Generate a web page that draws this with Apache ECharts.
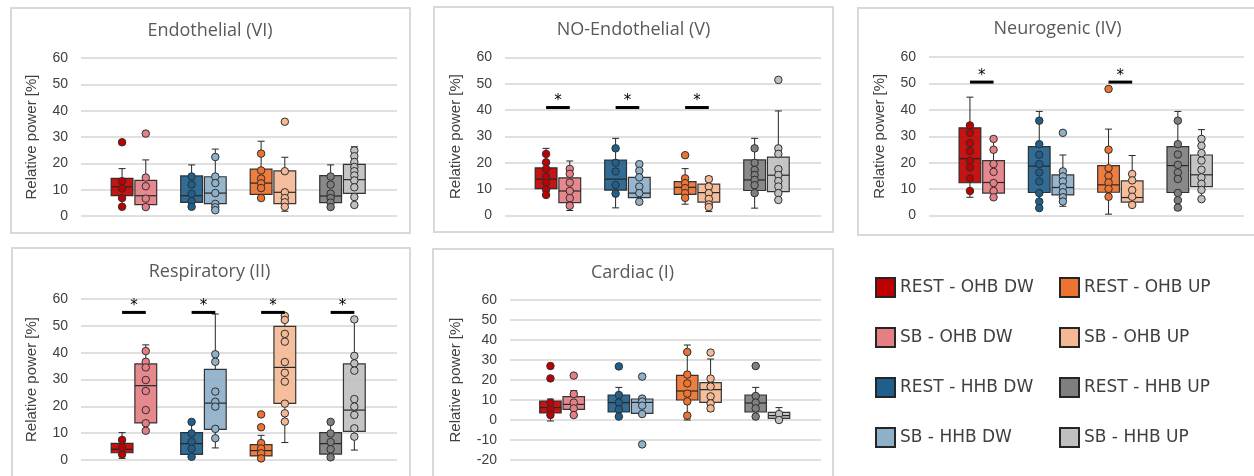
<!DOCTYPE html>
<html>
<head>
<meta charset="utf-8">
<title>Relative power</title>
<script src="https://cdn.jsdelivr.net/npm/echarts@6/dist/echarts.min.js"></script>
<style>
  html, body { margin: 0; padding: 0; background: #fff; }
  #myChart { width: 1254px; height: 476px; }
</style>
</head>
<body>
<div id="myChart"></div>
<script>
var groups = ['REST - OHB DW', 'SB - OHB DW', 'REST - HHB DW', 'SB - HHB DW',
              'REST - OHB UP', 'SB - OHB UP', 'REST - HHB UP', 'SB - HHB UP'];
var groupColors = ['#c00000', '#e47f85', '#1f5f8c', '#8eb0c9', '#ed7330', '#f4b895', '#7f7f7f', '#c0c0c0'];

var panelTitles = ['Endothelial (VI)', 'NO-Endothelial (V)', 'Neurogenic (IV)', 'Respiratory (II)', 'Cardiac (I)'];
var yMins = [0, 0, 0, 0, -20];
var yMax = 60;

// box values: [min, Q1, median, Q3, max] per group
var endoBoxes = [[3.5, 7.7, 11.1, 14.3, 18], [3, 4.3, 7.7, 13.5, 21.3], [3.3, 5.2, 7.7, 15.2, 19.4], [1.9, 4.7, 8.7, 14.9, 25.4],
                 [6.8, 8.2, 12.5, 17.8, 28.4], [1.8, 4.7, 9, 17.1, 22.3], [3, 5.1, 7.6, 15.3, 19.4], [3.7, 8.6, 13.8, 19.6, 26.3]];
var endoPoints = [[28, 13.2, 10.4, 6.8, 3.5], [31.3, 14.6, 11.3, 6.6, 3.4], [15, 11.9, 8.4, 5.6, 3.5], [22.4, 15, 12.5, 8.7, 4.6, 3.3, 2.2],
                  [23.7, 17.3, 14.2, 12.4, 10.6, 6.8], [35.8, 17, 9, 6.8, 5.2, 3.5], [15, 11.9, 8.5, 6.8, 5.1, 3.4],
                  [24.9, 22.7, 20.5, 18.6, 17, 15.4, 13.5, 10.9, 7.2, 4.2]];
var endoSig = [];

var noBoxes = [[7.8, 10.2, 13.8, 18.1, 25.5], [1.9, 4.9, 9.3, 14.3, 20.7], [2.9, 9.6, 13.8, 21, 29.3], [4.4, 6.8, 8.5, 14.5, 19.8],
               [4.3, 8, 10.7, 12.9, 17.8], [1.5, 5.1, 8.7, 11.9, 14.8], [2.8, 9.5, 13.5, 21.1, 29.3], [5.9, 9.1, 15.3, 22.2, 39.7]];
var noPoints = [[23.4, 20.2, 17.7, 14.8, 12.5, 9.9, 7.8], [17.7, 15.8, 12.5, 9.3, 6.6, 3.7], [25.5, 20, 16.7, 11.6, 8.3],
                [19.5, 17, 14.5, 11, 8.5, 5.2], [22.9, 14.1, 12.3, 10.4, 8.5, 6.7], [13.8, 11, 8.5, 6.3, 4.2, 3.2],
                [25.5, 20, 17.3, 15.4, 13.5, 11.5, 8.5], [51.5, 25.5, 23.4, 17.6, 15.4, 13.1, 11, 8.5, 5.9]];
var noSig = [[0, 41], [1, 41], [2, 41]];

var neuroBoxes = [[6.9, 12.4, 21.5, 33.2, 44.8], [6.8, 8.5, 12.5, 20.8, 29.2], [2.8, 8.7, 18.7, 26.1, 39.4], [3.5, 7.8, 10.6, 15.4, 22.9],
                  [0.5, 8.8, 11.6, 18.9, 32.7], [4, 5.1, 6.8, 13.1, 22.7], [2.1, 8.7, 18.9, 26.1, 39.4], [6.2, 10.9, 15.4, 22.9, 32.5]];
var neuroPoints = [[34.1, 31.3, 27.4, 24.4, 20.8, 18.2, 14.1, 9.3], [29, 24.9, 19.5, 16.5, 12.3, 9.3, 6.9],
                   [35.9, 27, 23, 19.5, 16.3, 12.9, 8.5, 5.3, 2.8], [31.3, 16.7, 14.8, 12.9, 10.7, 8.8, 6.9, 5.3],
                   [47.9, 24.9, 17.9, 15, 12.5, 10.1, 7.1], [15.7, 13.3, 9.6, 7.1, 4],
                   [35.9, 27, 23.1, 19.2, 16.3, 13.8, 8.5, 5.8, 3], [29, 26.4, 23.6, 20.8, 17.3, 14.4, 12, 9.7, 6.2]];
var neuroSig = [[0, 50.5], [2, 50.5]];

var respBoxes = [[0.6, 2.7, 4, 6.2, 10.2], [10.7, 13.8, 27.7, 35.8, 42.9], [0.6, 2.1, 6.1, 10.2, 14.3], [4.5, 11.4, 21.2, 33.8, 54.4],
                 [0.6, 1.5, 3.5, 5.7, 9.2], [6.5, 21.1, 34.5, 49.8, 53.7], [0.2, 2.2, 6.1, 10.2, 14.2], [3.7, 10.7, 18.6, 35.8, 52.4]];
var respPoints = [[7.5, 4.7, 2.1], [40.6, 36.6, 34.5, 29.8, 25.7, 18.6, 13.7, 10.9], [14.2, 9.9, 6.8, 4.2, 1.2],
                  [39.4, 36.6, 25.5, 21.7, 19.9, 11.6, 8.1], [17, 12.2, 6.3, 4.3, 2.5, 0.6],
                  [53.7, 52.2, 47, 44.1, 36.5, 32.5, 29.2, 21, 17.4, 14.3], [14.2, 9.9, 6.7, 4, 1],
                  [52.4, 38.8, 36, 33.3, 22.7, 19.9, 16.8, 11.8, 8.7]];
var respSig = [[0, 55], [1, 55], [2, 55], [3, 55]];

var cardBoxes = [[-0.5, 3.5, 6.2, 9.5, 10.5], [1.7, 5.3, 7.8, 11.7, 14.7], [1.7, 4, 8.7, 12.5, 16.3], [3, 3.3, 8.8, 10.5, 11.3],
                 [0, 10, 14.5, 22.3, 37.5], [4.5, 8.8, 15.2, 18.7, 30.5], [1.7, 4, 8.5, 12.5, 16.3], [-0.5, 0.8, 2.2, 3.8, 6.2]];
var cardPoints = [[27, 20.8, 8.7, 5.3, 2.5], [22.2, 13, 8.7, 5.8, 2.5], [26.8, 12.5, 8.7, 5.3, 1.7], [21.7, 10.7, 9.2, 7.2, 3, -12.2],
                  [34, 22.7, 18.3, 13.2, 9.3, 2.2], [33.7, 20.7, 16.7, 11.8, 8.3, 5.8], [27, 12, 8.7, 5.8, 1.7], [3, 0]];
var cardSig = [];

var boxes = [endoBoxes, noBoxes, neuroBoxes, respBoxes, cardBoxes];
var points = [endoPoints, noPoints, neuroPoints, respPoints, cardPoints];
var sigs = [endoSig, noSig, neuroSig, respSig, cardSig];

// layout: box centres on a 0-100 x scale, panel frames and plot areas in px
var xPos = [13, 20.5, 35, 42.5, 57, 64.5, 79, 86.5];
var boxWidth = 6.9;
var panels = [
  {grid: {left: 81, top: 58, width: 316, height: 158}, frame: [11, 8, 399, 225], title: [210, 31], nameGap: 42},
  {grid: {left: 505, top: 57.5, width: 316, height: 158}, frame: [434, 7, 399, 225], title: [633.5, 30], nameGap: 42},
  {grid: {left: 929, top: 57, width: 315, height: 158.5}, frame: [858, 8, 402, 227], title: [1057.5, 29], nameGap: 42},
  {grid: {left: 81, top: 299, width: 316, height: 161}, frame: [12, 248, 398, 240], title: [209.5, 272], nameGap: 42},
  {grid: {left: 510, top: 300, width: 311, height: 160}, frame: [433, 249, 400, 240], title: [632.5, 273], nameGap: 47}
];

function renderBox(params, api) {
  var x = api.value(0);
  var lo = api.coord([x, api.value(1)]);
  var q1 = api.coord([x, api.value(2)]);
  var md = api.coord([x, api.value(3)]);
  var q3 = api.coord([x, api.value(4)]);
  var hi = api.coord([x, api.value(5)]);
  var w = api.size([boxWidth, 0])[0];
  var c = lo[0];
  var cap = 3.5;
  var ln = {stroke: '#262626', lineWidth: 1};
  return {
    type: 'group',
    children: [
      {type: 'line', shape: {x1: c, y1: hi[1], x2: c, y2: q3[1]}, style: ln},
      {type: 'line', shape: {x1: c - cap, y1: hi[1], x2: c + cap, y2: hi[1]}, style: ln},
      {type: 'line', shape: {x1: c, y1: lo[1], x2: c, y2: q1[1]}, style: ln},
      {type: 'line', shape: {x1: c - cap, y1: lo[1], x2: c + cap, y2: lo[1]}, style: ln},
      {type: 'rect', shape: {x: c - w / 2, y: q3[1], width: w, height: q1[1] - q3[1]},
       style: {fill: api.visual('color'), opacity: 0.92, stroke: '#262626', lineWidth: 1.2}},
      {type: 'line', shape: {x1: c - w / 2, y1: md[1], x2: c + w / 2, y2: md[1]}, style: {stroke: '#262626', lineWidth: 1.2}}
    ]
  };
}

function renderSig(params, api) {
  var a = api.coord([api.value(0), api.value(2)]);
  var b = api.coord([api.value(1), api.value(2)]);
  return {
    type: 'group',
    children: [
      {type: 'line', shape: {x1: a[0], y1: a[1], x2: b[0], y2: b[1]}, style: {stroke: '#000', lineWidth: 3}},
      {type: 'text', x: (a[0] + b[0]) / 2, y: a[1] - 6,
       style: {text: '*', fill: '#000', font: '15px "DejaVu Sans"', textAlign: 'center', textVerticalAlign: 'middle'}}
    ]
  };
}

var grids = [], xAxes = [], yAxes = [], series = [], graphics = [];

panels.forEach(function (p, i) {
  grids.push(p.grid);
  xAxes.push({type: 'value', gridIndex: i, min: 0, max: 100, show: false});
  yAxes.push({
    type: 'value', gridIndex: i, min: yMins[i], max: yMax, interval: 10,
    name: 'Relative power [%]', nameLocation: 'middle', nameGap: p.nameGap,
    nameTextStyle: {fontFamily: 'Liberation Sans', fontSize: 15, color: '#404040'},
    axisLine: {show: false}, axisTick: {show: false},
    axisLabel: {fontFamily: 'Liberation Sans', fontSize: 14, color: '#404040', margin: 13},
    splitLine: {lineStyle: {color: '#d6d6d6', width: 1.5}}
  });

  groups.forEach(function (name, g) {
    series.push({
      type: 'custom', name: name, xAxisIndex: i, yAxisIndex: i,
      renderItem: renderBox, itemStyle: {color: groupColors[g]},
      encode: {x: 0, y: [1, 2, 3, 4, 5]},
      data: [[xPos[g]].concat(boxes[i][g])],
      z: 2, silent: true
    });
    series.push({
      type: 'scatter', name: name, xAxisIndex: i, yAxisIndex: i,
      symbolSize: 7.5,
      itemStyle: {color: groupColors[g], borderColor: '#303030', borderWidth: 1, opacity: 1},
      data: points[i][g].map(function (v) { return [xPos[g], v]; }),
      z: 3, silent: true
    });
  });

  if (sigs[i].length) {
    series.push({
      type: 'custom', xAxisIndex: i, yAxisIndex: i, renderItem: renderSig,
      encode: {x: [0, 1], y: 2},
      data: sigs[i].map(function (s) { return [xPos[2 * s[0]], xPos[2 * s[0] + 1], s[1]]; }),
      z: 4, silent: true
    });
  }

  graphics.push({
    type: 'rect', z: -10, silent: true,
    shape: {x: p.frame[0], y: p.frame[1], width: p.frame[2], height: p.frame[3]},
    style: {fill: 'none', stroke: '#d9d9d9', lineWidth: 2}
  });
  graphics.push({
    type: 'text', x: p.title[0], y: p.title[1], silent: true,
    style: {text: panelTitles[i], fill: '#595959', font: '18px "Open Sans"', textAlign: 'center', textVerticalAlign: 'middle'}
  });
});

var legendBase = {
  orient: 'vertical', top: 277, padding: 0,
  itemWidth: 19, itemHeight: 19, itemGap: 29, icon: 'rect', selectedMode: false,
  itemStyle: {borderColor: '#262626', borderWidth: 2},
  textStyle: {fontFamily: 'DejaVu Sans', fontSize: 17, color: '#404040'}
};

var option = {
  animation: false,
  backgroundColor: '#fff',
  grid: grids,
  xAxis: xAxes,
  yAxis: yAxes,
  legend: [
    Object.assign({}, legendBase, {left: 875, data: groups.slice(0, 4)}),
    Object.assign({}, legendBase, {left: 1059, data: groups.slice(4)})
  ],
  graphic: graphics,
  series: series
};

var myChart = echarts.init(document.getElementById('myChart'));
myChart.setOption(option);

window.onresize = function () {
  myChart.resize();
};
</script>
</body>
</html>
